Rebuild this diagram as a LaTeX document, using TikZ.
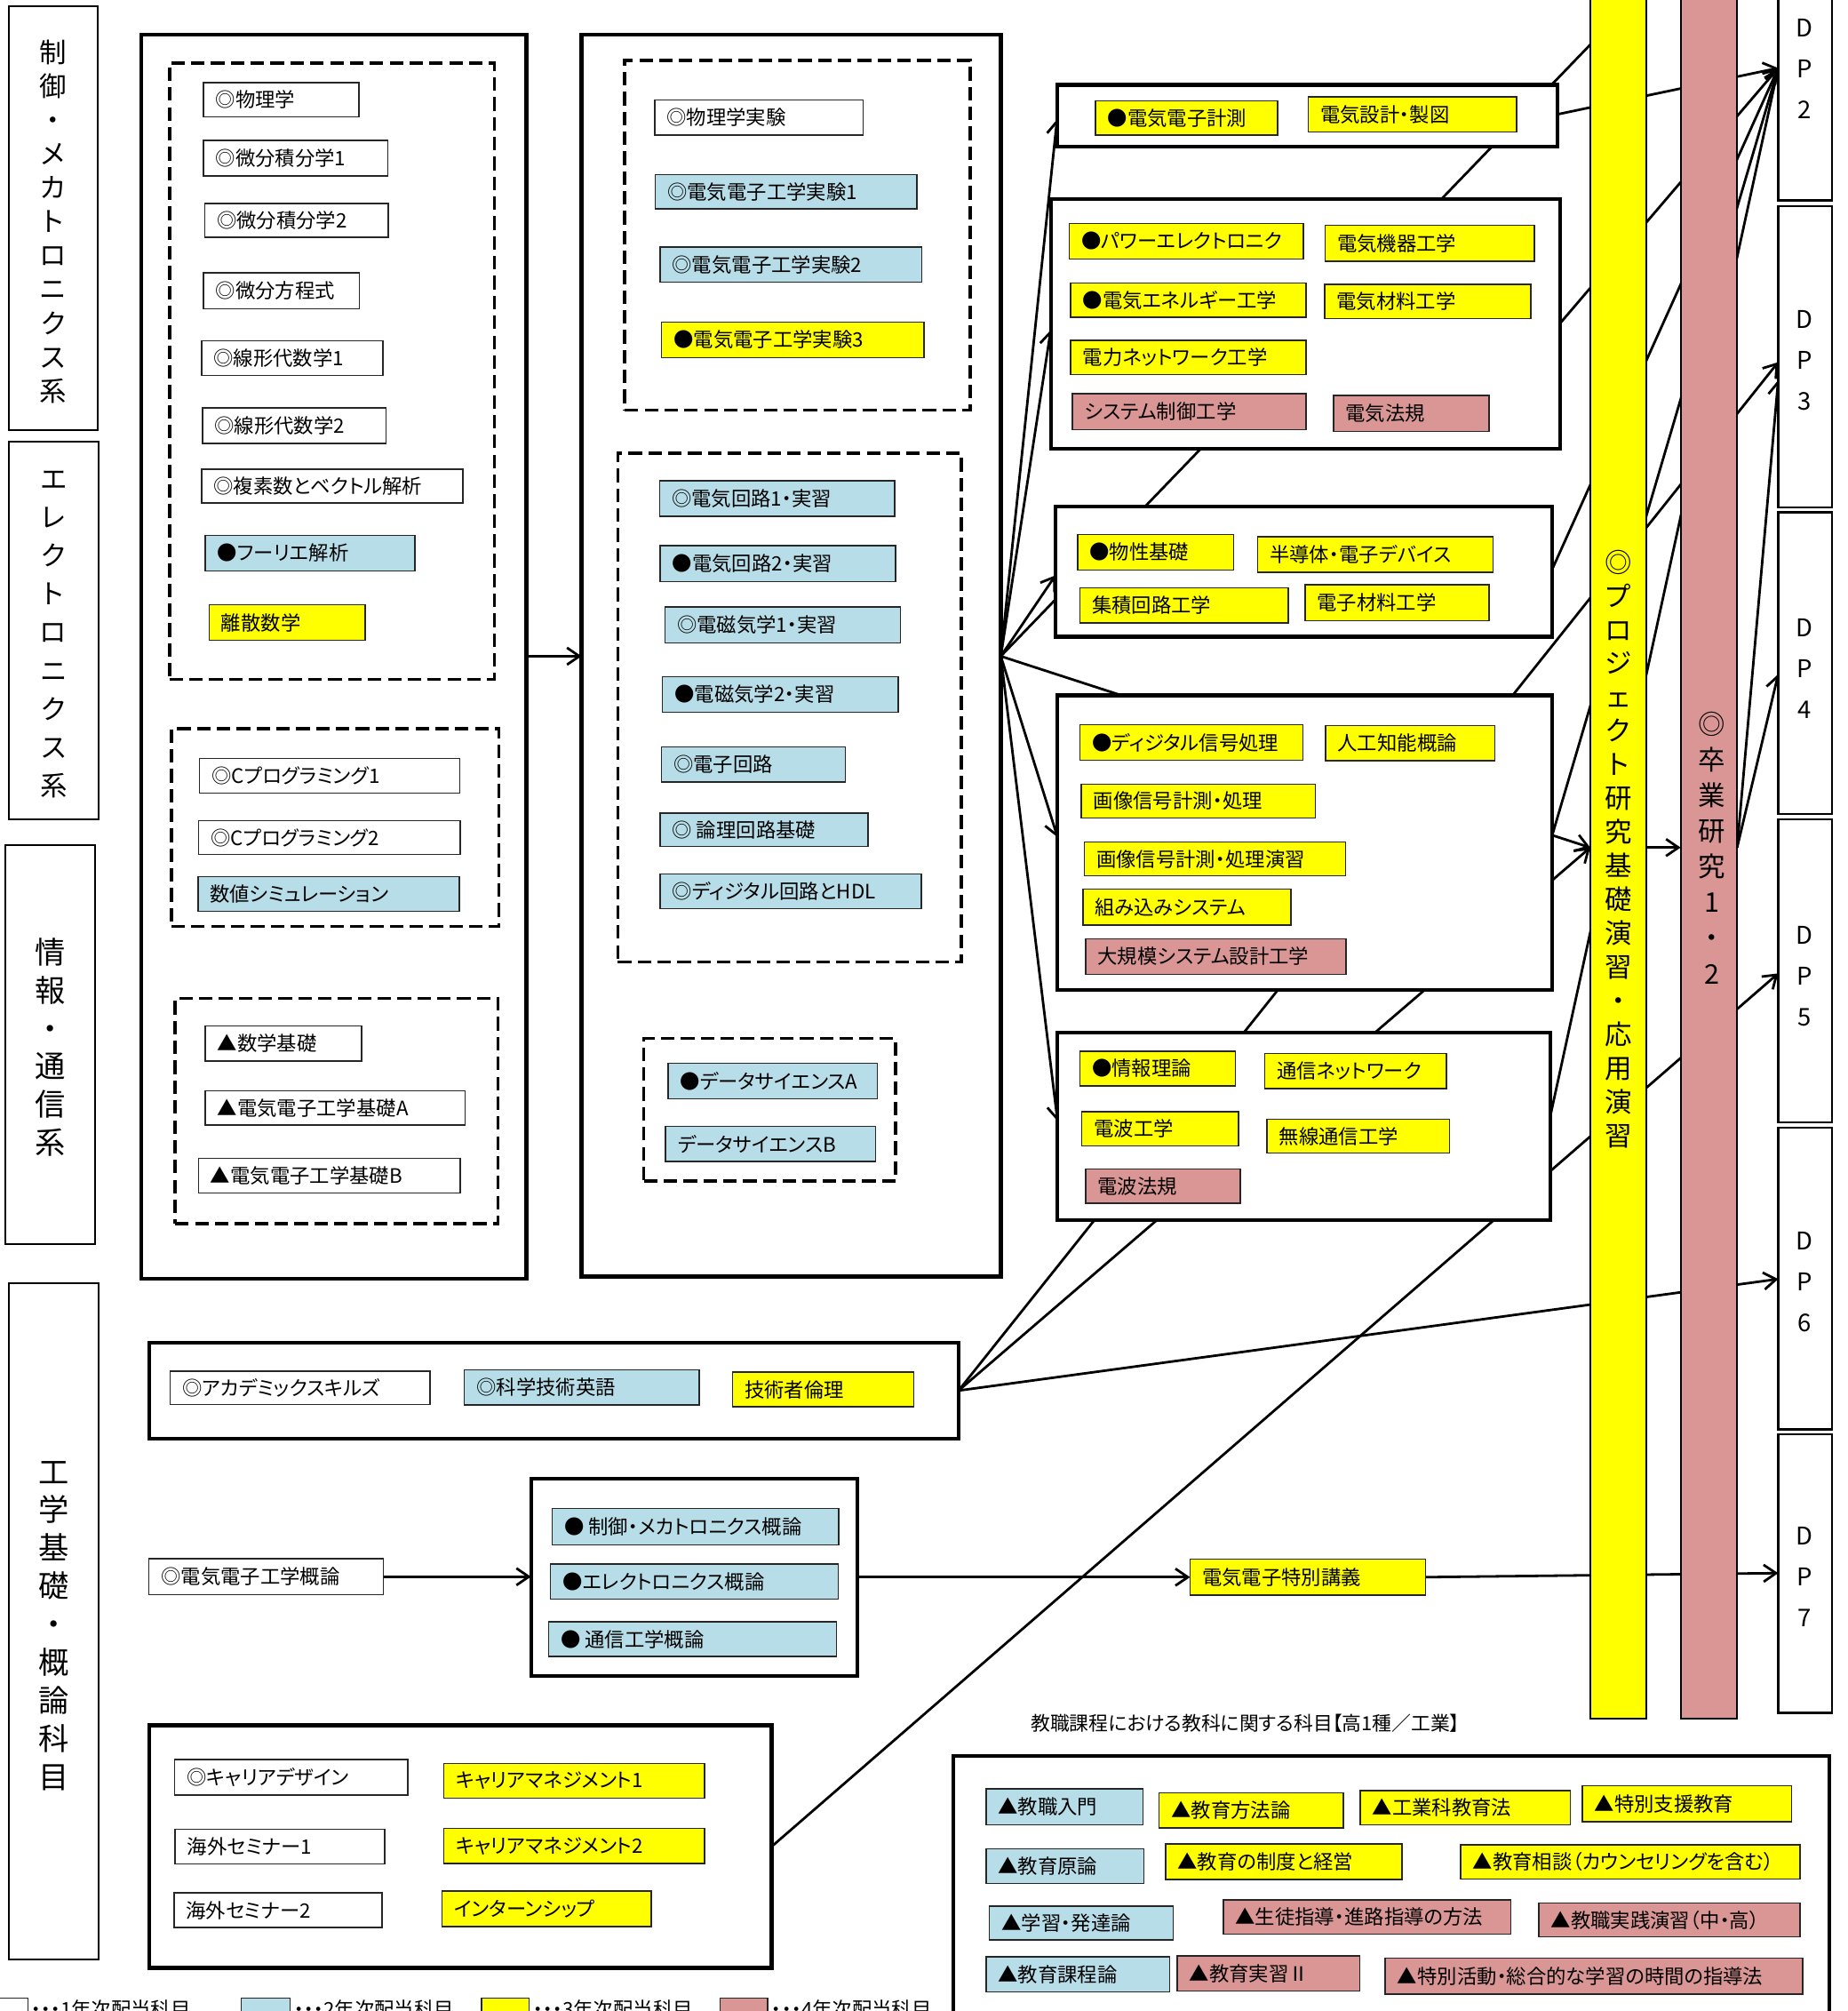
\documentclass[tikz,border=0pt]{standalone}
\usepackage{fontspec}
\usepackage{graphicx}
\setmainfont{Noto Sans CJK JP}[RawFeature={+palt}]
\usetikzlibrary{arrows.meta,calc}
\pgfdeclarelayer{back}
\pgfdeclarelayer{bg}
\pgfsetlayers{back,bg,main}
\definecolor{cblue}{RGB}{183,221,232}
\definecolor{cyel}{RGB}{255,255,0}
\definecolor{cpink}{RGB}{217,150,148}
\tikzset{
  itm/.style={draw=black!85, line width=0.6pt},
  itmtext/.style={inner sep=0pt, outer sep=0pt, font=\fontsize{8.8}{10}\selectfont},
  bigbox/.style={draw, line width=1.7pt, fill=white},
  rbox/.style={draw, line width=1.6pt, fill=white},
  dbox/.style={draw, line width=1.4pt, dash pattern=on 6pt off 2.8pt},
  catbox/.style={draw, line width=0.8pt},
  dpbox/.style={draw, line width=1pt, fill=white},
  barbox/.style={draw, line width=0.8pt},
  vtext/.style={align=center, inner sep=0pt},
  conn/.style={line width=1.1pt},
  arr/.style={conn, -{Straight Barb[length=5.5pt,width=7.5pt]}},
}
\newcommand{\bx}[6][]{\node[inner sep=0pt,outer sep=0pt,#1,minimum width={((#5)-(#3))*0.02cm},minimum height={((#6)-(#4))*0.02cm},anchor=north west] (#2) at (#3,#4) {};}
\newcommand{\itm}[7]{\bx[itm,fill=#6]{#1}{#2}{#3}{#4}{#5}\node[itmtext,anchor=west] (#1t) at ([xshift=0.19cm]#1.west) {#7};}
\begin{document}
\begin{tikzpicture}[x=0.02cm,y=-0.02cm]
\useasboundingbox (0,0) rectangle (1438.7,1566);
\begin{pgfonlayer}{back}
\fill[white] (0,0) rectangle (1438.7,1566);
\end{pgfonlayer}
\clip (0,0) rectangle (1438.7,1566);

% category boxes
\bx[catbox]{catA}{7}{5}{76}{335}
\bx[catbox]{catB}{7}{344}{77}{638}
\bx[catbox]{catC}{4}{658}{74}{969}
\bx[catbox]{catD}{7}{999}{77}{1526}
\node[vtext,font=\fontsize{12}{15}\selectfont] (catAt) at (41.3,172.5) {制\\御\\・\\メ\\カ\\ト\\ロ\\ニ\\ク\\ス\\系};
\node[vtext,font=\fontsize{12}{17}\selectfont] (catBt) at (41.7,494) {エ\\レ\\ク\\ト\\ロ\\ニ\\ク\\ス\\系};
\node[vtext,font=\fontsize{13.5}{16.9}\selectfont] (catCt) at (39.2,815.5) {情\\報\\・\\通\\信\\系};
\node[vtext,font=\fontsize{13.5}{16.9}\selectfont] (catDt) at (42.2,1266) {工\\学\\基\\礎\\・\\概\\論\\科\\目};

% column 1
\bx[bigbox]{col1}{110}{27}{410}{996}
\bx[dbox]{dA}{132}{49}{385}{529}
\bx[dbox]{dB}{133.5}{567.5}{388.7}{721.5}
\bx[dbox]{dC}{136.5}{777.6}{388}{953}
\itm{phys}{158.5}{64.4}{279.6}{90.9}{white}{◎物理学}
\itm{calcA}{158.5}{109.4}{301.9}{136.9}{white}{◎微分積分学1}
\itm{calcB}{159.4}{158.3}{302.5}{184.8}{white}{◎微分積分学2}
\itm{ode}{158.5}{212.3}{280}{240.5}{white}{◎微分方程式}
\itm{linA}{157}{265.3}{298.4}{292.2}{white}{◎線形代数学1}
\itm{linB}{157.6}{317.7}{300.6}{345.2}{white}{◎線形代数学2}
\itm{cplx}{157}{365.3}{360.5}{391.8}{white}{◎複素数とベクトル解析}
\itm{four}{160}{417}{323.2}{444.5}{cblue}{●フーリエ解析}
\itm{disc}{162.8}{471}{284.5}{498.5}{cyel}{離散数学}
\itm{cpA}{155.4}{590.7}{358}{617.5}{white}{◎Cプログラミング1}
\itm{cpB}{154.8}{639}{358.3}{665.5}{white}{◎Cプログラミング2}
\itm{nsim}{154.2}{682.6}{357.8}{709.5}{cblue}{数値シミュレーション}
\itm{mbas}{160}{799}{281.8}{826.2}{white}{▲数学基礎}
\itm{eeA}{160}{849.3}{362.4}{875.9}{white}{▲電気電子工学基礎A}
\itm{eeB}{154.5}{902}{358.4}{928.9}{white}{▲電気電子工学基礎B}

% column 2
\bx[bigbox]{col2}{453}{27}{779.5}{994}
\bx[dbox]{dD}{486.6}{47}{755.6}{319.4}
\bx[dbox]{dE}{481.2}{352.9}{748.7}{749}
\bx[dbox]{dF}{501.5}{808.7}{697.7}{919.5}
\itm{pexp}{509.9}{77.8}{672.3}{105.3}{white}{◎物理学実験}
\itm{exA}{510.4}{135.9}{714}{162.7}{cblue}{◎電気電子工学実験1}
\itm{exB}{514.1}{192.5}{718}{219.7}{cblue}{◎電気電子工学実験2}
\itm{exC}{515.3}{250.9}{719.5}{278.4}{cyel}{●電気電子工学実験3}
\itm{ecA}{513.8}{374.4}{697}{401.9}{cblue}{◎電気回路1・実習}
\itm{ecB}{514.3}{425}{697.7}{452.9}{cblue}{●電気回路2・実習}
\itm{emA}{518}{472.7}{701.4}{500.5}{cblue}{◎電磁気学1・実習}
\itm{emB}{516}{527}{699.5}{554.5}{cblue}{●電磁気学2・実習}
\itm{elc}{515.1}{581.7}{658.4}{608.8}{cblue}{◎電子回路}
\itm{logic}{514.1}{633}{676}{659.1}{cblue}{◎ 論理回路基礎}
\itm{hdl}{514.1}{680.6}{717.5}{707.4}{cblue}{◎ディジタル回路とHDL}
\itm{dsa}{520.3}{827.9}{683.4}{855.7}{cblue}{●データサイエンスA}
\itm{dsb}{518.3}{877.2}{682}{904.4}{cblue}{データサイエンスB}

% right boxes
\bx[rbox]{RA}{823.3}{66.1}{1213.2}{114.1}
\itm{meas}{853.2}{78.5}{995.1}{105}{cyel}{●電気電子計測}
\itm{edes}{1018.9}{75.5}{1181.2}{102.6}{cyel}{電気設計・製図}
\bx[rbox]{RB}{818.4}{155}{1214.9}{349.5}
\itm{pwr}{832.7}{174.1}{1015.2}{201.6}{cyel}{●パワーエレクトロニク}
\itm{mach}{1032}{175.5}{1195.2}{203.3}{cyel}{電気機器工学}
\itm{ener}{834}{220.4}{1017.2}{247.2}{cyel}{●電気エネルギー工学}
\itm{emat}{1031.6}{221.4}{1192.3}{248.2}{cyel}{電気材料工学}
\itm{pnet}{834}{265}{1017.2}{291.8}{cyel}{電力ネットワーク工学}
\itm{sysc}{835.2}{306.6}{1017.2}{334.5}{cpink}{システム制御工学}
\itm{elaw}{1038.6}{308}{1159.9}{335.8}{cpink}{電気法規}
\bx[rbox]{RC}{822.1}{394.2}{1209.1}{495.8}
\itm{mprop}{839.3}{416.3}{960.7}{443.8}{cyel}{●物性基礎}
\itm{semi}{979.5}{418}{1162.8}{445.5}{cyel}{半導体・電子デバイス}
\itm{ic}{841}{457.6}{1003.3}{485}{cyel}{集積回路工学}
\itm{ematB}{1016.4}{455.2}{1159.9}{483.4}{cyel}{電子材料工学}
\bx[rbox]{RD}{823.7}{541.5}{1209.1}{771.2}
\itm{dsp}{841}{564.3}{1014.8}{592.1}{cyel}{●ディジタル信号処理}
\itm{ai}{1032.4}{564.9}{1164.4}{592.5}{cyel}{人工知能概論}
\itm{img}{842.2}{610.6}{1024.6}{637.1}{cyel}{画像信号計測・処理}
\itm{imgx}{844.6}{655.8}{1048}{682}{cyel}{画像信号計測・処理演習}
\itm{emb}{843.4}{692.4}{1005.3}{720.3}{cyel}{組み込みシステム}
\itm{lsi}{845.5}{731}{1048.4}{758.8}{cpink}{大規模システム設計工学}
\bx[rbox]{RE}{823.7}{804.2}{1207.3}{950}
\itm{info}{841}{818.5}{962.3}{845.7}{cyel}{●情報理論}
\itm{cnet}{984.9}{820.5}{1126.7}{847.8}{cyel}{通信ネットワーク}
\itm{wave}{842.6}{865.8}{964.8}{892.3}{cyel}{電波工学}
\itm{wless}{986.9}{871.6}{1129.1}{898}{cyel}{無線通信工学}
\itm{rlaw}{845.5}{910.4}{966}{937}{cpink}{電波法規}

% bars
\bx[barbox,fill=cyel]{ybar}{1238.6}{-5}{1282.5}{1338}
\bx[barbox,fill=cpink]{pbar}{1309}{-5}{1353}{1338}
\node[vtext,font=\fontsize{12}{14.94}\selectfont] (ybart) at (1260.4,661) {◎\\プ\\ロ\\ジ\\ェ\\ク\\ト\\研\\究\\基\\礎\\演\\習\\・\\応\\用\\演\\習};
\node[vtext,font=\fontsize{12}{15.8}\selectfont] (pbart) at (1333.5,660.2) {◎\\卒\\業\\研\\究\\1\\・\\2};

% DP boxes
\bx[dpbox]{dpB}{1385}{-45}{1427}{156}
\bx[dpbox]{dpC}{1385}{160.5}{1427}{395}
\bx[dpbox]{dpD}{1385}{399}{1427}{634}
\bx[dpbox]{dpE}{1385}{638}{1427}{874}
\bx[dpbox]{dpF}{1385}{878}{1427}{1113}
\bx[dpbox]{dpG}{1385}{1117}{1427}{1334}
\node[vtext,font=\fontsize{10.8}{18.1}\selectfont] (dpBt) at (1405.5,53.5) {D\\P\\2};
\node[vtext,font=\fontsize{10.8}{18.1}\selectfont] (dpCt) at (1405.5,281) {D\\P\\3};
\node[vtext,font=\fontsize{10.8}{18.1}\selectfont] (dpDt) at (1405.5,521) {D\\P\\4};
\node[vtext,font=\fontsize{10.8}{18.1}\selectfont] (dpEt) at (1405.5,760) {D\\P\\5};
\node[vtext,font=\fontsize{10.8}{18.1}\selectfont] (dpFt) at (1405.5,998) {D\\P\\6};
\node[vtext,font=\fontsize{10.8}{18.1}\selectfont] (dpGt) at (1405.5,1228) {D\\P\\7};

% bottom blocks
\bx[rbox]{G}{116.5}{1045.6}{746.6}{1120.1}
\itm{acad}{132.5}{1067.7}{335}{1093.6}{white}{◎アカデミックスキルズ}
\itm{seng}{361.7}{1066.6}{544.7}{1094.2}{cblue}{◎科学技術英語}
\itm{ethic}{570.4}{1068.5}{711.7}{1095.4}{cyel}{技術者倫理}
\itm{intro}{116}{1213.8}{298.6}{1241.8}{white}{◎電気電子工学概論}
\bx[rbox]{H}{413.6}{1151.3}{667.5}{1305.3}
\itm{hc}{430.1}{1174.5}{653.4}{1202.9}{cblue}{● 制御・メカトロニクス概論}
\itm{he}{428.7}{1217.8}{653}{1245.1}{cblue}{●エレクトロニクス概論}
\itm{ht}{427.2}{1262.8}{651.5}{1290}{cblue}{● 通信工学概論}
\itm{spl}{926.9}{1214.1}{1110.4}{1242.2}{cyel}{電気電子特別講義}
\bx[rbox]{I}{116.5}{1343.5}{601}{1532.4}
\itm{cdes}{135.9}{1370}{317.5}{1398}{white}{◎キャリアデザイン}
\itm{cmA}{345.7}{1373.3}{548.6}{1400.1}{cyel}{キャリアマネジメント1}
\itm{osA}{136.4}{1424.5}{299.5}{1451.4}{white}{海外セミナー1}
\itm{cmB}{345.7}{1423.7}{548.6}{1451}{cyel}{キャリアマネジメント2}
\itm{osB}{135.5}{1473.9}{297.6}{1501.1}{white}{海外セミナー2}
\itm{intern}{344.2}{1472.5}{507.3}{1500.1}{cyel}{インターンシップ}

\node[itmtext,font=\fontsize{8.6}{10}\selectfont] (ttl) at (970,1342) {教職課程における教科に関する科目【高1種／工業】};
\bx[rbox]{J}{742.6}{1367.3}{1424.6}{1620}
\itm{tA}{768}{1393}{890.1}{1421}{cblue}{▲教職入門}
\itm{tB}{902.8}{1396.1}{1046.4}{1423.4}{cyel}{▲教育方法論}
\itm{tC}{1059.5}{1394.5}{1223}{1421}{cyel}{▲工業科教育法}
\itm{tD}{1232.5}{1390.7}{1395.5}{1418.7}{cyel}{▲特別支援教育}
\itm{tE}{768}{1439.8}{891.1}{1466.7}{cblue}{▲教育原論}
\itm{tF}{907.8}{1435.9}{1091.8}{1463.5}{cyel}{▲教育の制度と経営}
\itm{tG}{1137.6}{1436.7}{1401.9}{1463.1}{cyel}{▲教育相談（カウンセリングを含む）}
\itm{tH}{770.7}{1484.2}{913.7}{1510.7}{cblue}{▲学習・発達論}
\itm{tI}{952.8}{1479.5}{1176.7}{1506}{cpink}{▲生徒指導・進路指導の方法}
\itm{tJ}{1198.5}{1481.9}{1401.9}{1508.3}{cpink}{▲教職実践演習（中・高）}
\itm{tK}{768}{1523.9}{911}{1551.2}{cblue}{▲教育課程論}
\itm{tL}{917}{1523.2}{1059}{1550.4}{cpink}{▲教育実習Ⅱ}
\itm{tM}{1079}{1524.7}{1404.2}{1552.7}{cpink}{▲特別活動・総合的な学習の時間の指導法}

% legend (cut by the lower edge, as in the reference)
\bx[itm,fill=white]{lgA}{-5}{1556}{21.9}{1600}
\bx[itm,fill=cblue]{lgB}{188}{1556}{226}{1600}
\bx[itm,fill=cyel]{lgC}{375}{1556}{412}{1600}
\bx[itm,fill=cpink]{lgD}{561}{1556}{598}{1600}
\node[itmtext,anchor=north west] (lgAt) at (24,1557.5) {・・・1年次配当科目};
\node[itmtext,anchor=north west] (lgBt) at (229,1557.5) {・・・2年次配当科目};
\node[itmtext,anchor=north west] (lgCt) at (415,1557.5) {・・・3年次配当科目};
\node[itmtext,anchor=north west] (lgDt) at (601,1557.5) {・・・4年次配当科目};

% connectors (behind boxes and bars)
\begin{pgfonlayer}{bg}
\coordinate (fan) at (col2.east |- 0,511);
\coordinate (ytop) at (ybar.north |- 0,12);
\coordinate (yin) at (ybar.west |- 0,660);
\coordinate (dpin) at (dpB.west |- 0,53);
\draw[arr] (col1.east |- 0,511) -- (col2.west |- 0,511);
\draw[arr] (fan) -- (RA.west |- 0,93);
\draw[arr] (fan) -- (RB.west |- 0,257);
\draw[arr] (fan) -- (RC.west |- 0,448);
\draw[conn] (fan) -- (ytop);
\draw[arr] (fan) -- (yin);
\draw[arr] (fan) -- (RD.west |- 0,652);
\draw[arr] (fan) -- (RE.west |- 0,873);
\draw[arr] (RA.east |- 0,89) -- (dpin);
\draw[arr] (RB.east |- 0,252) -- (dpin);
\draw[arr] (RC.east |- 0,443) -- (dpin);
\draw[arr] (RD.east |- 0,650) -- (dpin);
\draw[arr] (RE.east |- 0,870) -- (dpin);
\draw[arr] (G.east) -- (dpC.west |- 0,282);
\draw[arr] (G.east) -- (yin);
\draw[arr] (G.east) -- (dpF.west |- 0,996);
\draw[arr] (I.east) -- (dpE.west |- 0,758);
\draw[arr] (intro.east) -- (H.west |- intro.east);
\draw[arr] (H.east |- spl.west) -- (spl.west);
\draw[arr] (spl.east) -- (dpG.west |- 0,1225);
\draw[arr] (ybar.east |- 0,660) -- (pbar.west |- 0,660);
\draw[arr] (pbar.east |- 0,660) -- (dpC.west |- 0,296);
\draw[arr] (pbar.east |- 0,660) -- (dpD.west |- 0,525);
\end{pgfonlayer}
\end{tikzpicture}
\end{document}
